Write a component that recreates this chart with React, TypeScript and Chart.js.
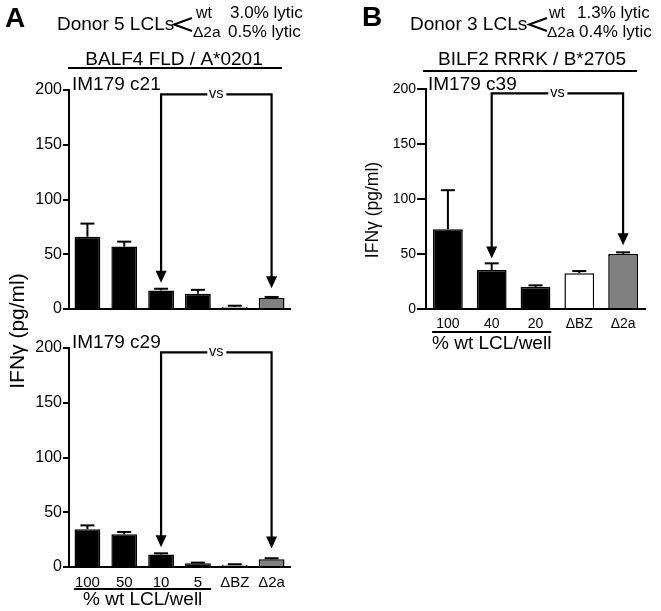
import React, { useEffect, useRef } from 'react';
import { Chart, registerables } from 'chart.js';

Chart.register(...registerables);

const FONT = '"Liberation Sans", Arial, Helvetica, sans-serif';
Chart.defaults.font.family = FONT;

// ---------------- data ----------------
const labelsA = ['100', '50', '10', '5', 'ΔBZ', 'Δ2a'];
const c21Values = [66, 57, 17, 14, 2, 10];
const c21ErrTops = [78, 61.5, 18.5, 17.5, 3, 11];
const c29Values = [34.5, 30, 11.5, 3.5, 2, 7];
const c29ErrTops = [38, 32, 12.5, 4, 2.5, 8];
const colorsA = ['#000000', '#000000', '#000000', '#000000', '#ffffff', '#808080'];

const labelsB = ['100', '40', '20', 'ΔBZ', 'Δ2a'];
const c39Values = [72.5, 35.5, 20, 32.5, 50];
const c39ErrTops = [108, 41.5, 21.5, 34.5, 51.5];
const colorsB = ['#000000', '#000000', '#000000', '#ffffff', '#808080'];

const yMin = 0;
const yMax = 200;
const yStep = 50;

// comparison brackets ("vs"): category indices, level, arrow tip levels
const bracketA = [2, 5];
const bracketB = [1, 4];
const bracketLevel = 196;
const c21ArrowTips = [24, 19];
const c29ArrowTips = [18, 17];
const c39ArrowTips = [46, 58];

type Box = { left: number; top: number; width: number; height: number };
type Area = { left: number; right: number; top: number; bottom: number };

type Spec = {
  page: Box;
  area: Area;
  labels: string[];
  values: number[];
  errTops: number[];
  colors: string[];
  showX: boolean;
  xFont: number;
  xPad: number;
  yFont: number;
  tickLen: number;
  barPct: number;
  capW: number;
  bracket: number[];
  tips: number[];
  decorate: (ctx: CanvasRenderingContext2D, chart: any) => void;
};

function text(
  ctx: CanvasRenderingContext2D,
  s: string,
  x: number,
  y: number,
  size: number,
  align: CanvasTextAlign = 'left',
  bold = false
) {
  ctx.save();
  ctx.fillStyle = '#000';
  ctx.font = `${bold ? 'bold ' : ''}${size}px ${FONT}`;
  ctx.textAlign = align;
  ctx.textBaseline = 'alphabetic';
  ctx.fillText(s, x, y);
  ctx.restore();
}

function line(ctx: CanvasRenderingContext2D, x1: number, y1: number, x2: number, y2: number, w = 2) {
  ctx.save();
  ctx.strokeStyle = '#000';
  ctx.lineWidth = w;
  ctx.beginPath();
  ctx.moveTo(x1, y1);
  ctx.lineTo(x2, y2);
  ctx.stroke();
  ctx.restore();
}

function chevron(ctx: CanvasRenderingContext2D, x: number, y: number) {
  ctx.save();
  ctx.strokeStyle = '#000';
  ctx.lineWidth = 2;
  ctx.beginPath();
  ctx.moveTo(x + 19, y);
  ctx.lineTo(x + 1, y + 6.5);
  ctx.lineTo(x + 19, y + 13);
  ctx.stroke();
  ctx.restore();
}

function rotText(ctx: CanvasRenderingContext2D, s: string, cx: number, cy: number, size: number) {
  ctx.save();
  ctx.translate(cx, cy);
  ctx.rotate(-Math.PI / 2);
  ctx.fillStyle = '#000';
  ctx.font = `${size}px ${FONT}`;
  ctx.textAlign = 'center';
  ctx.textBaseline = 'middle';
  ctx.fillText(s, 0, 0);
  ctx.restore();
}

function arrowHead(ctx: CanvasRenderingContext2D, x: number, tipY: number) {
  ctx.save();
  ctx.fillStyle = '#000';
  ctx.beginPath();
  ctx.moveTo(x, tipY);
  ctx.lineTo(x - 5.5, tipY - 12);
  ctx.lineTo(x + 5.5, tipY - 12);
  ctx.closePath();
  ctx.fill();
  ctx.restore();
}

function xLabelUnderline(ctx: CanvasRenderingContext2D, chart: any, last: number, y: number, textY: number) {
  const xs = chart.scales.x;
  const half = (xs.getPixelForValue(1) - xs.getPixelForValue(0)) * 0.36;
  const x1 = xs.getPixelForValue(0) - half;
  const x2 = xs.getPixelForValue(last) + half;
  line(ctx, x1, y, x2, y, 2);
  text(ctx, '% wt LCL/well', (x1 + x2) / 2, textY, 19, 'center');
}

function Panel({ spec }: { spec: Spec }) {
  const ref = useRef<HTMLCanvasElement>(null);
  useEffect(() => {
    const { page, area } = spec;
    const yW = area.left - page.left;
    const padTop = area.top - page.top;
    const padRight = page.left + page.width - area.right;
    const xH = page.top + page.height - area.bottom;

    const overlay = {
      id: 'overlay',
      afterDraw(chart: any) {
        const ctx: CanvasRenderingContext2D = chart.ctx;
        const xs = chart.scales.x;
        const ys = chart.scales.y;
        // error bars
        spec.values.forEach((v, i) => {
          const x = xs.getPixelForValue(i);
          const y0 = ys.getPixelForValue(v);
          const y1 = ys.getPixelForValue(spec.errTops[i]);
          line(ctx, x, y0, x, y1, 2);
          line(ctx, x - spec.capW / 2, y1, x + spec.capW / 2, y1, 2);
        });
        // bracket with arrows
        const [i1, i2] = spec.bracket;
        const x1 = xs.getPixelForValue(i1);
        const x2 = xs.getPixelForValue(i2);
        const xm = (x1 + x2) / 2;
        const yb = ys.getPixelForValue(bracketLevel);
        const t1 = ys.getPixelForValue(spec.tips[0]);
        const t2 = ys.getPixelForValue(spec.tips[1]);
        ctx.save();
        ctx.strokeStyle = '#000';
        ctx.lineWidth = 2.2;
        ctx.lineJoin = 'miter';
        ctx.beginPath();
        ctx.moveTo(x1, t1 - 8);
        ctx.lineTo(x1, yb);
        ctx.lineTo(xm - 9, yb);
        ctx.moveTo(xm + 10, yb);
        ctx.lineTo(x2, yb);
        ctx.lineTo(x2, t2 - 8);
        ctx.stroke();
        ctx.restore();
        arrowHead(ctx, x1, t1);
        arrowHead(ctx, x2, t2);
        text(ctx, 'vs', xm, yb + 4, 14.5, 'center');
        // page-coordinate decorations
        ctx.save();
        ctx.translate(-page.left, -page.top);
        spec.decorate(ctx, {
          scales: {
            x: { getPixelForValue: (i: number) => xs.getPixelForValue(i) + page.left },
          },
        });
        ctx.restore();
      },
    };

    const chart = new Chart(ref.current as HTMLCanvasElement, {
      type: 'bar',
      data: {
        labels: spec.labels,
        datasets: [
          {
            data: spec.values,
            backgroundColor: spec.colors,
            borderColor: '#000000',
            borderWidth: 1.5,
            barPercentage: spec.barPct,
            categoryPercentage: 1,
          },
        ],
      },
      options: {
        responsive: false,
        maintainAspectRatio: false,
        animation: false,
        layout: { padding: { left: 0, top: padTop, right: padRight, bottom: 0 } },
        plugins: { legend: { display: false }, tooltip: { enabled: false } },
        scales: {
          x: {
            type: 'category',
            offset: true,
            grid: { display: false, drawTicks: false },
            border: { display: true, color: '#000', width: 2 },
            ticks: {
              display: spec.showX,
              color: '#000',
              font: { family: FONT, size: spec.xFont },
              padding: spec.xPad,
              maxRotation: 0,
              autoSkip: false,
            },
            afterFit: (s: any) => {
              s.height = xH;
            },
          },
          y: {
            min: yMin,
            max: yMax,
            ticks: { stepSize: yStep, color: '#000', font: { family: FONT, size: spec.yFont }, padding: 1 },
            grid: {
              display: true,
              drawOnChartArea: false,
              drawTicks: true,
              tickLength: spec.tickLen,
              color: '#000',
              lineWidth: 2,
            },
            border: { display: true, color: '#000', width: 2 },
            afterFit: (s: any) => {
              s.width = yW;
            },
          },
        },
      },
      plugins: [overlay],
    } as any);
    return () => chart.destroy();
  }, []);
  const { page } = spec;
  return (
    <canvas
      ref={ref}
      width={page.width}
      height={page.height}
      style={{ position: 'absolute', left: page.left, top: page.top, width: page.width, height: page.height }}
    />
  );
}

const drawAHeader = (ctx: CanvasRenderingContext2D) => {
  text(ctx, 'A', 5, 27, 28, 'left', true);
  text(ctx, 'Donor 5 LCLs', 57, 30, 19);
  chevron(ctx, 173, 18);
  text(ctx, 'wt', 196, 18, 16);
  text(ctx, '3.0% lytic', 230, 18, 17);
  text(ctx, 'Δ2a', 193, 37, 15.5);
  text(ctx, '0.5% lytic', 228, 37, 17);
  text(ctx, 'BALF4 FLD / A*0201', 174, 65, 19, 'center');
  line(ctx, 68, 68, 282, 68, 2);
  text(ctx, 'IM179 c21', 72, 90, 19);
  rotText(ctx, 'IFNγ (pg/ml)', 18, 331, 21);
};

const specA1: Spec = {
  page: { left: 0, top: 0, width: 320, height: 320 },
  area: { left: 69, right: 290, top: 90, bottom: 309 },
  labels: labelsA,
  values: c21Values,
  errTops: c21ErrTops,
  colors: colorsA,
  showX: false,
  xFont: 15,
  xPad: 6,
  yFont: 16,
  tickLen: 6,
  barPct: 0.7,
  capW: 14,
  bracket: bracketA,
  tips: c21ArrowTips,
  decorate: (ctx) => drawAHeader(ctx),
};

const specA2: Spec = {
  page: { left: 0, top: 320, width: 320, height: 291 },
  area: { left: 69, right: 290, top: 348, bottom: 567 },
  labels: labelsA,
  values: c29Values,
  errTops: c29ErrTops,
  colors: colorsA,
  showX: true,
  xFont: 15,
  xPad: 7,
  yFont: 16,
  tickLen: 6,
  barPct: 0.7,
  capW: 14,
  bracket: bracketA,
  tips: c29ArrowTips,
  decorate: (ctx, chart) => {
    text(ctx, 'IM179 c29', 72, 348, 19);
    rotText(ctx, 'IFNγ (pg/ml)', 18, 331, 21);
    xLabelUnderline(ctx, chart, 3, 589, 605);
  },
};

const specB: Spec = {
  page: { left: 330, top: 0, width: 331, height: 360 },
  area: { left: 426, right: 645, top: 89, bottom: 309 },
  labels: labelsB,
  values: c39Values,
  errTops: c39ErrTops,
  colors: colorsB,
  showX: true,
  xFont: 14,
  xPad: 7,
  yFont: 14,
  tickLen: 9,
  barPct: 0.68,
  capW: 14,
  bracket: bracketB,
  tips: c39ArrowTips,
  decorate: (ctx, chart) => {
    text(ctx, 'B', 362, 26, 28, 'left', true);
    text(ctx, 'Donor 3 LCLs', 410, 30, 19);
    chevron(ctx, 528, 18);
    text(ctx, 'wt', 549, 18, 16);
    text(ctx, '1.3% lytic', 577, 18, 17);
    text(ctx, 'Δ2a', 547, 37, 15.5);
    text(ctx, '0.4% lytic', 579, 37, 17);
    text(ctx, 'BILF2 RRRK / B*2705', 532, 65, 19, 'center');
    line(ctx, 423, 71, 637, 71, 2);
    text(ctx, 'IM179 c39', 428, 90, 19);
    rotText(ctx, 'IFNγ (pg/ml)', 373, 210, 17.5);
    xLabelUnderline(ctx, chart, 2, 332, 349);
  },
};

export default function App() {
  return (
    <div
      style={{
        position: 'absolute',
        left: 0,
        top: 0,
        width: 661,
        height: 611,
        background: '#ffffff',
        overflow: 'hidden',
      }}
    >
      <Panel spec={specA1} />
      <Panel spec={specA2} />
      <Panel spec={specB} />
    </div>
  );
}
